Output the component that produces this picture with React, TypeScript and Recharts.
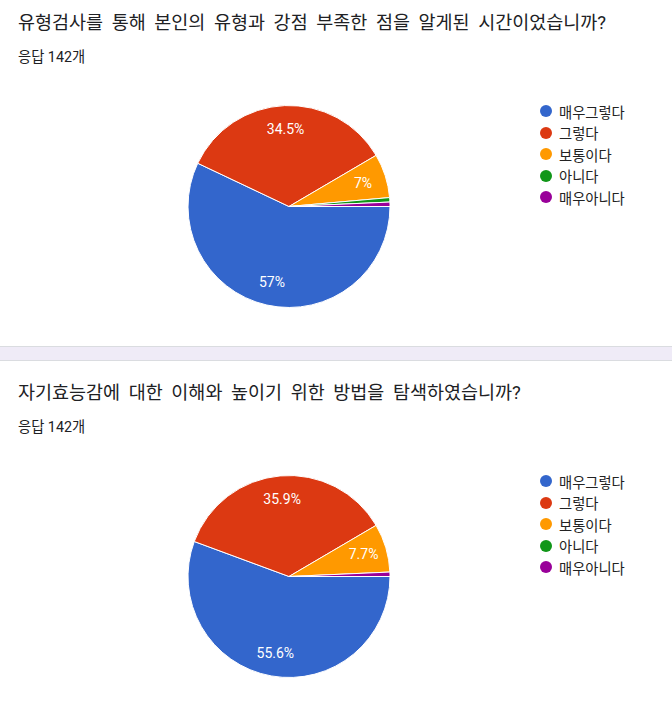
import React from "react";
import { PieChart, Pie, Cell, Legend } from "recharts";

const categories = ["매우그렇다", "그렇다", "보통이다", "아니다", "매우아니다"];
const colors = ["#3366CC", "#DC3912", "#FF9900", "#109618", "#990099"];

const title1 = "유형검사를 통해 본인의 유형과 강점 부족한 점을 알게된 시간이었습니까?";
const values1 = [81, 49, 10, 1, 1];

const title2 = "자기효능감에 대한 이해와 높이기 위한 방법을 탐색하였습니까?";
const values2 = [79, 51, 11, 0, 1];

const responseLabel = "응답 142개";

const FONT = "Roboto, 'Noto Sans CJK KR', sans-serif";
const RAD = Math.PI / 180;

const renderLabel = (props: any) => {
  const { cx, cy, midAngle, outerRadius, percent } = props;
  if (percent < 0.05) return null;
  const r = outerRadius * 0.77;
  const x = cx + r * Math.cos(-midAngle * RAD);
  const y = cy + r * Math.sin(-midAngle * RAD);
  const txt = Number((percent * 100).toFixed(1)) + "%";
  return (
    <text
      x={x}
      y={y}
      fill="#ffffff"
      textAnchor="middle"
      dominantBaseline="central"
      style={{ fontFamily: FONT, fontSize: 14 }}
    >
      {txt}
    </text>
  );
};

const LegendContent = (props: any) => {
  const payload = [...(props.payload || [])].sort(
    (a: any, b: any) => categories.indexOf(a.value) - categories.indexOf(b.value)
  );
  return (
    <div style={{ fontFamily: FONT }}>
      {payload.map((p: any, i: number) => (
        <div
          key={i}
          style={{ display: "flex", alignItems: "center", height: 21.4 }}
        >
          <span
            style={{
              display: "inline-block",
              width: 12,
              height: 12,
              borderRadius: 6,
              background: p.color,
              marginRight: 7,
              flexShrink: 0,
            }}
          />
          <span style={{ fontSize: 14.3, color: "#222222", whiteSpace: "nowrap" }}>{p.value}</span>
        </div>
      ))}
    </div>
  );
};

function Section({ title, values, top }: { title: string; values: number[]; top: number }) {
  const data = categories.map((name, i) => ({ name, value: values[i] }));
  return (
    <div style={{ position: "absolute", left: 0, top, width: 672, height: 340 }}>
      <div
        style={{
          position: "absolute",
          left: 18,
          top: 11.2,
          fontFamily: FONT,
          fontSize: 18.5,
          lineHeight: "24px",
          wordSpacing: 4,
          color: "#202124",
          whiteSpace: "nowrap",
        }}
      >
        {title}
      </div>
      <div
        style={{
          position: "absolute",
          left: 18,
          top: 46.5,
          fontFamily: FONT,
          fontSize: 14.3,
          lineHeight: "20px",
          color: "#202124",
          whiteSpace: "nowrap",
        }}
      >
        {responseLabel}
      </div>
      <div style={{ position: "absolute", left: 0, top: 80 }}>
        <PieChart width={672} height={260} margin={{ top: 0, right: 0, bottom: 0, left: 0 }}>
          <Pie
            data={data}
            dataKey="value"
            nameKey="name"
            cx={289}
            cy={126.5}
            outerRadius={101}
            startAngle={0}
            endAngle={-360}
            stroke="#ffffff"
            strokeWidth={1}
            label={renderLabel}
            labelLine={false}
            isAnimationActive={false}
          >
            {data.map((d, i) => (
              <Cell key={d.name} fill={colors[i]} />
            ))}
          </Pie>
          <Legend
            layout="vertical"
            content={<LegendContent />}
            wrapperStyle={{ position: "absolute", left: 540, top: 20.8, width: 132 }}
          />
        </PieChart>
      </div>
    </div>
  );
}

export default function App() {
  return (
    <div
      style={{
        position: "absolute",
        left: 0,
        top: 0,
        width: 672,
        height: 710,
        background: "#ffffff",
        overflow: "hidden",
      }}
    >
      <Section title={title1} values={values1} top={0} />
      <div
        style={{
          position: "absolute",
          left: 0,
          top: 346,
          width: 672,
          height: 13,
          background: "#efebf7",
          borderTop: "1px solid #dadce0",
          borderBottom: "1px solid #dadce0",
        }}
      />
      <Section title={title2} values={values2} top={370} />
    </div>
  );
}
